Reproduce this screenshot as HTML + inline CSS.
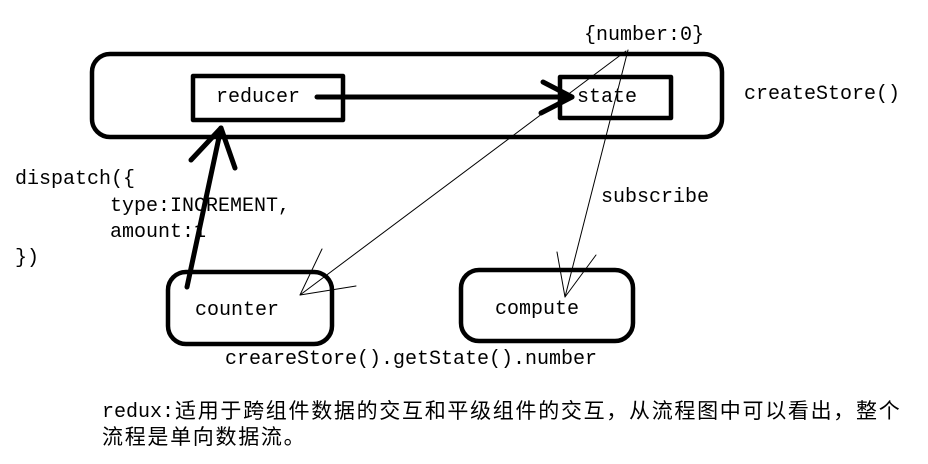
<!DOCTYPE html>
<html><head><meta charset="utf-8"><style>
html,body{margin:0;padding:0;background:#fff;}
body{width:928px;height:464px;position:relative;overflow:hidden;}
.t{position:absolute;font-family:"Liberation Mono","Noto Sans CJK SC",monospace;font-size:20px;color:#000;white-space:pre;line-height:1;}
.c{position:absolute;font-family:"Noto Sans CJK SC",sans-serif;font-size:21px;letter-spacing:1.7px;white-space:pre;line-height:1;}
</style></head><body>
<svg width="928" height="464" style="position:absolute;left:0;top:0">
<g fill="none" stroke="#000" stroke-linecap="round" stroke-linejoin="round">
<rect x="92" y="54" width="630" height="83" rx="18" stroke-width="4.5"/>
<rect x="193" y="76" width="150" height="44" stroke-width="4.5"/>
<rect x="560" y="77" width="111" height="41" stroke-width="4.5"/>
<rect x="168" y="272" width="164" height="72" rx="18" stroke-width="4.5"/>
<rect x="461" y="270" width="172" height="71" rx="18" stroke-width="4.5"/>
<line x1="317" y1="97" x2="572" y2="97" stroke-width="5"/>
<polyline points="543,82 572,97 541,113" stroke-width="5"/>
<line x1="187" y1="287" x2="221" y2="128" stroke-width="5"/>
<polyline points="191,160 221,128 235,168" stroke-width="5"/>
<line x1="626" y1="51" x2="300" y2="295" stroke-width="1"/>
<polyline points="322,249 300,295 356,286" stroke-width="1"/>
<line x1="628" y1="50" x2="565" y2="297" stroke-width="1"/>
<polyline points="557,252 565,297 596,255" stroke-width="1"/>
</g></svg>
<div class="t" style="left:584px;top:26px">{number:0}</div>
<div class="t" style="left:216px;top:88px">reducer</div>
<div class="t" style="left:577px;top:88px">state</div>
<div class="t" style="left:744px;top:85px">createStore()</div>
<div class="t" style="left:15px;top:170px">dispatch({</div>
<div class="t" style="left:110px;top:197px">type:INCREMENT,</div>
<div class="t" style="left:110px;top:223px">amount:1</div>
<div class="t" style="left:15px;top:249px">})</div>
<div class="t" style="left:601px;top:188px">subscribe</div>
<div class="t" style="left:195px;top:301px">counter</div>
<div class="t" style="left:495px;top:300px">compute</div>
<div class="t" style="left:225px;top:350px">creareStore().getState().number</div>
<div class="t" style="left:102px;top:403px">redux:</div>
<div class="c" style="left:175px;top:400px">适用于跨组件数据的交互和平级组件的交互，从流程图中可以看出，整个</div>
<div class="c" style="left:102px;top:426px">流程是单向数据流。</div>
</body></html>
